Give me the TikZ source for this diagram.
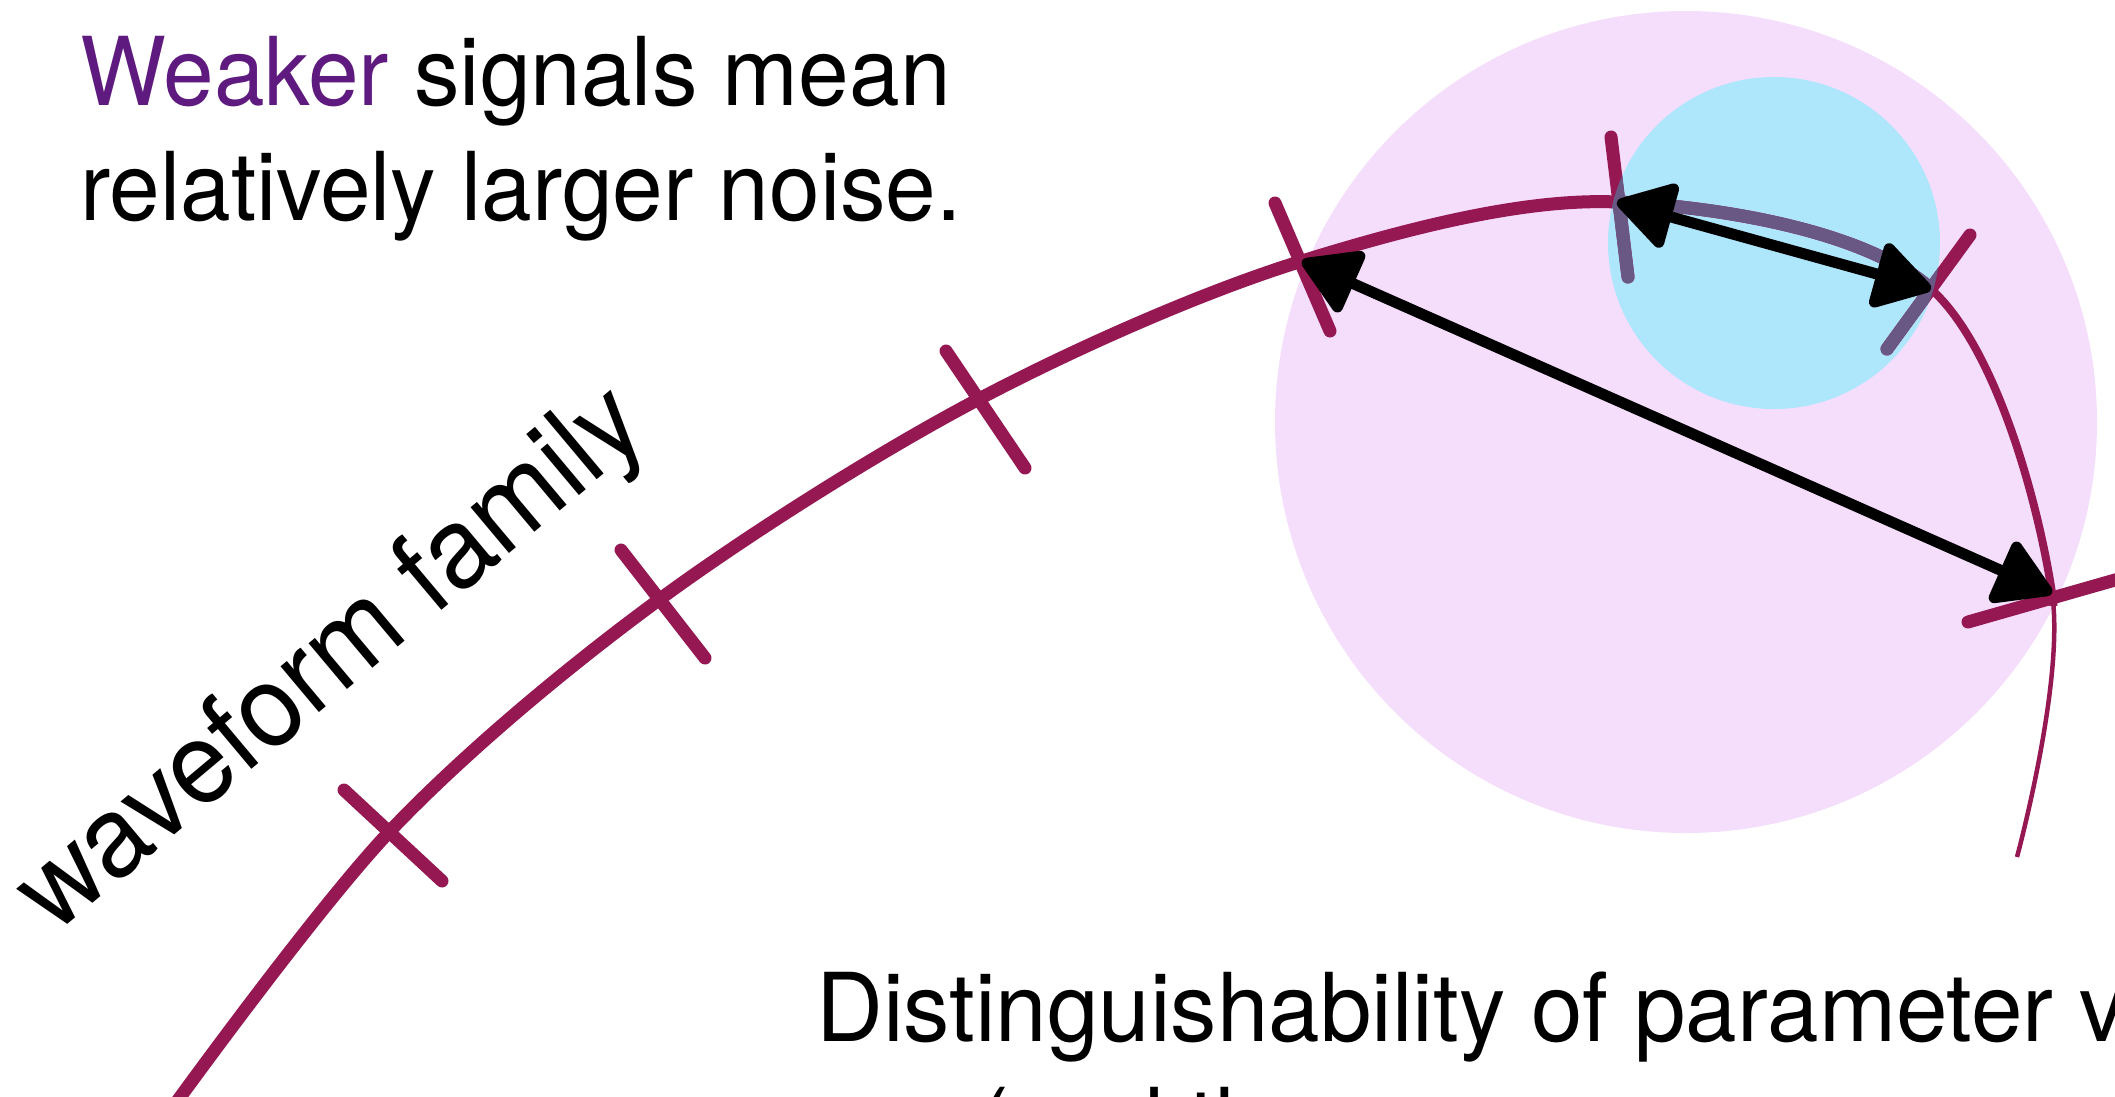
\documentclass[tikz,border=0pt]{standalone}
\usepackage{fontspec}
\setmainfont{TeX Gyre Heros}[FakeStretch=0.958]
\newfontfamily\widefont{TeX Gyre Heros}[FakeStretch=0.975]
\usetikzlibrary{arrows.meta}
\definecolor{wave}{RGB}{150,24,82}
\definecolor{muted}{RGB}{105,88,132}
\definecolor{pinkbg}{RGB}{245,221,252}
\definecolor{bluebg}{RGB}{174,230,252}
\definecolor{weak}{RGB}{94,26,126}
\newcommand\wavecurve[1]{\draw[#1] plot[smooth,tension=0.55] coordinates {(p0) (c1) (c2) (c3) (c4) (c5) (c6) (c7) (p8)};}
\newcommand\tickset[1]{\draw[tickmark,#1] (t1a)--(t1b) (t2a)--(t2b) (t3a)--(t3b) (t4a)--(t4b) (t5a)--(t5b) (t6a)--(t6b) (t7a)--(t7b);}
\begin{document}
\begin{tikzpicture}[x=1pt,y=-1pt,
  txt/.style={font=\fontsize{95pt}{115pt}\selectfont, inner sep=0pt, anchor=base west},
  tickmark/.style={line width=13pt, line cap=round},
  dbl/.style={line width=11pt, line cap=round, {Triangle[length=62pt,width=72pt,round]}-{Triangle[length=62pt,width=72pt,round]}},
]
\useasboundingbox (0,0) rectangle (2115,1096);
% curve points
\coordinate (p0) at (165,1118);
\coordinate (c1) at (391,830);
\coordinate (c2) at (660,599);
\coordinate (c3) at (979,399);
\coordinate (c4) at (1302,261);
\coordinate (c5) at (1617,202);
\coordinate (c6) at (1931,289);
\coordinate (c7) at (2052,593);
\coordinate (p8) at (2017,857);
% tick ends
\coordinate (t1a) at (344,790); \coordinate (t1b) at (442,881);
\coordinate (t2a) at (621,550); \coordinate (t2b) at (705,658);
\coordinate (t3a) at (946,351); \coordinate (t3b) at (1025,468);
\coordinate (t4a) at (1275,203); \coordinate (t4b) at (1330,331);
\coordinate (t5a) at (1611,137); \coordinate (t5b) at (1628,277);
\coordinate (t6a) at (1970,235); \coordinate (t6b) at (1887,349);
\coordinate (t7a) at (1968,622); \coordinate (t7b) at (2150,570);
% backgrounds
\fill[pinkbg] (1686,422) circle[radius=411pt];
\fill[bluebg] (1774,243) circle[radius=166pt];
% waveform family curve
\wavecurve{wave, line width=4.5pt}
\begin{scope}
  \clip (0,0) rectangle (2115,605);
  \wavecurve{wave, line width=8pt}
\end{scope}
\begin{scope}
  \clip (0,0) rectangle (1931,1096);
  \wavecurve{wave, line width=13pt}
\end{scope}
\tickset{wave}
\begin{scope}
  \clip (1774,243) circle[radius=166pt];
  \begin{scope}
    \clip (0,0) rectangle (1931,1096);
    \wavecurve{muted, line width=13pt}
  \end{scope}
  \tickset{muted}
\end{scope}
% distance arrows
\draw[dbl] (c4) -- (c7);
\draw[dbl] (c5) -- (c6);
% texts
\node[txt] (l1) at (80,105) {\textcolor{weak}{Weaker} signals mean};
\node[txt] (l2) at (80,220) {relatively larger noise.};
\node[txt, font=\fontsize{114pt}{130pt}\selectfont, rotate=40] (fam) at (54,936) {waveform family};
\node[txt, font=\widefont\fontsize{95pt}{115pt}\selectfont] (d1) at (816,1041) {Distinguishability of parameter v};
\node[txt, font=\widefont\fontsize{95pt}{115pt}\selectfont] (d2) at (978,1156) {(and the};
\end{tikzpicture}
\end{document}
